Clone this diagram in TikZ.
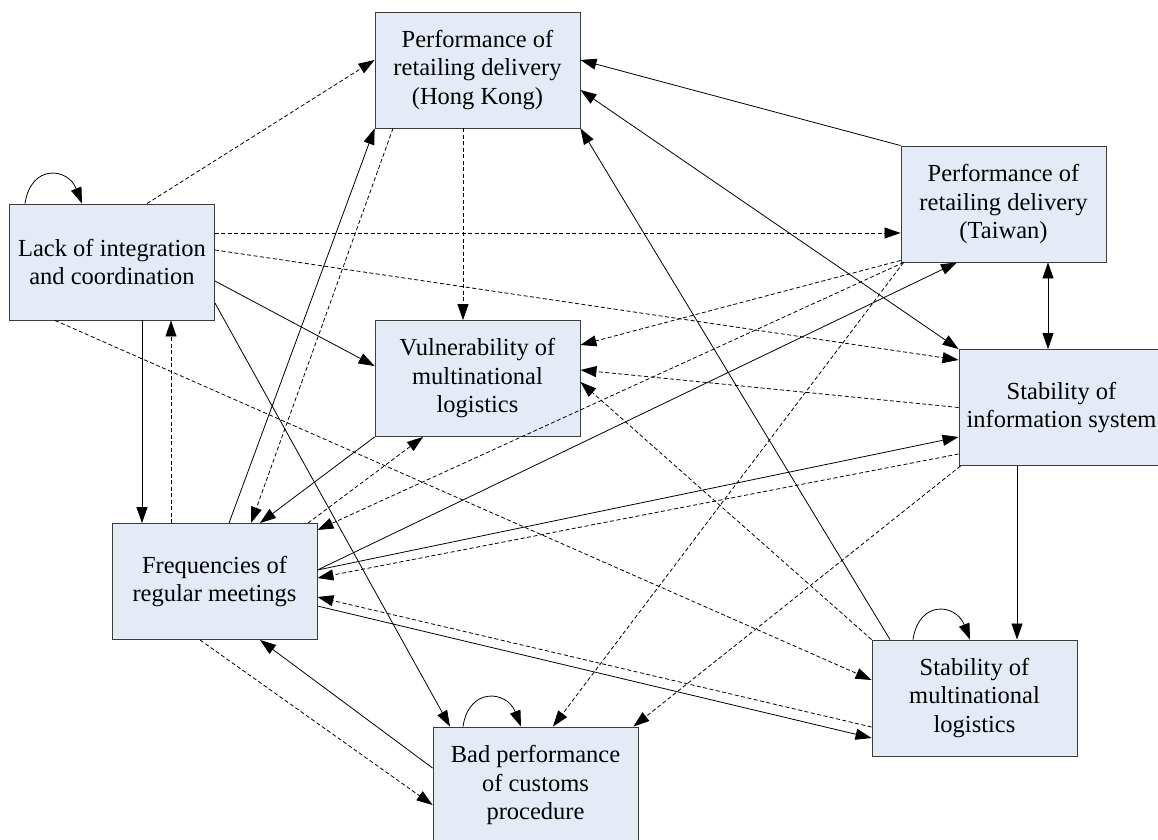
\documentclass[tikz,border=0pt]{standalone}
\usepackage{fontspec}
\setmainfont{Liberation Serif}
\usepackage{tikz}
\usetikzlibrary{arrows.meta}
\definecolor{boxfill}{RGB}{228,235,246}
\definecolor{boxline}{RGB}{60,60,60}

\begin{document}
\begin{tikzpicture}[x=1pt, y=1pt,
          box/.style={draw=boxline, fill=boxfill, line width=0.9pt,
                      minimum width=205pt, minimum height=116pt,
                      inner sep=0pt, align=center,
                      font=\fontsize{24.5}{28.5}\selectfont},
          arr/.style={-{Triangle[length=16pt,width=11pt]}, line width=0.8pt},
          barr/.style={{Triangle[length=16pt,width=11pt]}-{Triangle[length=16pt,width=11pt]}, line width=0.8pt},
          darr/.style={arr, dash pattern=on 4pt off 2.5pt}]
          \useasboundingbox (0,0) rectangle (1158,839);
          % factors
          \node[box] (hk) at (477.5,769) {Performance of\\retailing delivery\\(Hong Kong)};
          \node[box] (tw) at (1003.5,635) {Performance of\\retailing delivery\\(Taiwan)};
          \node[box] (lack) at (112,577) {Lack of integration\\and coordination};
          \node[box] (vuln) at (477.5,460.5) {Vulnerability of\\multinational\\logistics};
          \node[box] (info) at (1061.5,431.5) {Stability of\\information system};
          \node[box] (freq) at (214.5,257.5) {Frequencies of\\regular meetings};
          \node[box] (multi) at (974.5,141) {Stability of\\multinational\\logistics};
          \node[box] (bad) at (535.5,54) {Bad performance\\of customs\\procedure};
          % self loops
          \draw[arr] ([xshift=-87pt]lack.north) .. controls +(6pt,40pt) and +(-14pt,36pt) .. ([xshift=-30pt]lack.north);
          \draw[arr] ([xshift=-61.5pt]multi.north) .. controls +(6pt,40pt) and +(-14pt,36pt) .. ([xshift=-4.5pt]multi.north);
          \draw[arr] ([xshift=-72.5pt]bad.north) .. controls +(6pt,40pt) and +(-14pt,36pt) .. ([xshift=-14.5pt]bad.north);
          % lack of integration
          \draw[arr] ([xshift=30pt]lack.south) -- ([xshift=30pt]lack.south |- freq.north);
          \draw[darr] ([xshift=-43.5pt]freq.north) -- ([xshift=-43.5pt]freq.north |- lack.south);
          \draw[arr] ([yshift=-19pt]lack.east) -- ([yshift=12.5pt]vuln.west);
          \draw[arr] ([yshift=-41pt]lack.east) -- ([xshift=-85.5pt]bad.north);
          \draw[darr] ([xshift=35pt]lack.north) -- ([yshift=10pt]hk.west);
          \draw[darr] ([yshift=29pt]lack.east) -- ([yshift=-29pt]tw.west);
          \draw[darr] ([yshift=12pt]lack.east) -- ([yshift=47.5pt]info.west);
          \draw[darr] ([xshift=-57pt]lack.south) -- ([yshift=18pt]multi.west);
          % hong kong
          \draw[arr] (tw.north west) -- ([yshift=10pt]hk.east);
          \draw[barr] ([yshift=-20pt]hk.east) -- (info.north west);
          \draw[arr] ([xshift=-84.5pt]multi.north) -- (hk.south east);
          \draw[darr] ([xshift=-14.5pt]hk.south) -- ([xshift=-14.5pt]hk.south |- vuln.north);
          \draw[darr] ([xshift=-84.5pt]hk.south) -- ([xshift=36.5pt]freq.north);
          \draw[arr] ([xshift=14.5pt]freq.north) -- (hk.south west);
          % taiwan
          \draw[barr] ([xshift=44.5pt]tw.south) -- ([xshift=44.5pt]tw.south |- info.north);
          \draw[arr] ([yshift=11.5pt]freq.east) -- ([xshift=-46.5pt]tw.south);
          \draw[darr] ([yshift=2pt]tw.south west) -- ([yshift=33.5pt]vuln.east);
          \draw[darr] ([xshift=3pt]tw.south west) -- ([yshift=51.5pt]freq.east);
          \draw[darr] ([xshift=3pt]tw.south west) -- ([xshift=17.5pt]bad.north);
          % information system
          \draw[arr] ([xshift=-44.5pt]info.south) -- ([xshift=-44.5pt]info.south |- multi.north);
          \draw[arr] ([yshift=11.5pt]freq.east) -- ([yshift=-29.5pt]info.west);
          \draw[darr] (info.west) -- ([yshift=8.5pt]vuln.east);
          \draw[darr] ([yshift=-46.5pt]info.west) -- ([yshift=3.5pt]freq.east);
          \draw[darr] ([xshift=2pt]info.south west) -- ([xshift=-5pt]bad.north east);
          % multinational logistics
          \draw[darr] (multi.north west) -- ([yshift=-3.5pt]vuln.east);
          \draw[darr] ([yshift=-29pt]multi.west) -- ([yshift=-15.5pt]freq.east);
          \draw[arr] ([yshift=-24.5pt]freq.east) -- ([yshift=-40pt]multi.west);
          % customs and meetings
          \draw[arr] ([yshift=17pt]bad.west) -- ([xshift=45.5pt]freq.south);
          \draw[darr] ([xshift=-14.5pt]freq.south) -- ([yshift=-20pt]bad.west);
          \draw[arr] (vuln.south west) -- ([xshift=45.5pt]freq.north);
          \draw[darr] ([xshift=93.5pt]freq.north) -- ([xshift=-54.5pt]vuln.south);
        \end{tikzpicture}
\end{document}
